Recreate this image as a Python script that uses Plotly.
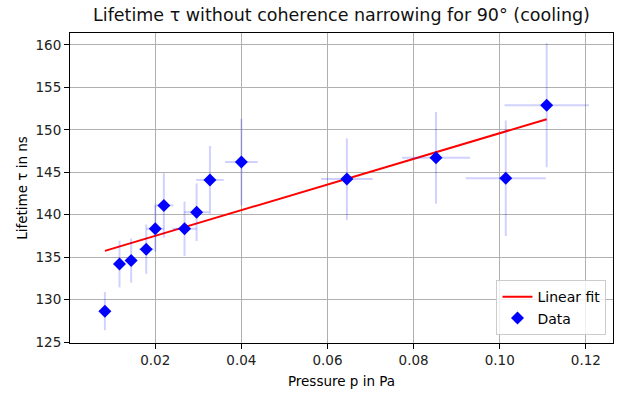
import plotly.graph_objects as go

pressure = [0.0083, 0.0117, 0.0144, 0.0179, 0.0200, 0.0220, 0.0268, 0.0296, 0.0327, 0.0400, 0.0645, 0.0852, 0.1014, 0.1109]
lifetime = [128.65, 134.2, 134.6, 135.95, 138.35, 141.1, 138.35, 140.3, 144.1, 146.2, 144.2, 146.7, 144.3, 152.9]
pressure_err = [0.0010, 0.0012, 0.0013, 0.0017, 0.0020, 0.0022, 0.0028, 0.0029, 0.0032, 0.0038, 0.0060, 0.0079, 0.0093, 0.0098]
lifetime_err = [2.25, 2.75, 2.6, 2.9, 2.7, 3.8, 3.2, 3.4, 4.0, 5.1, 4.8, 5.4, 6.8, 7.3]

fit_x = [0.0083, 0.1109]
fit_y = [135.75, 151.25]

x_ticks = [0.02, 0.04, 0.06, 0.08, 0.10, 0.12]
x_tick_text = ["0.02", "0.04", "0.06", "0.08", "0.10", "0.12"]
y_ticks = [125, 130, 135, 140, 145, 150, 155, 160]

font = "DejaVu Sans"

fig = go.Figure()
fig.add_trace(go.Scatter(
    x=fit_x, y=fit_y, mode="lines", name="Linear fit",
    line=dict(color="red", width=2),
))
fig.add_trace(go.Scatter(
    x=pressure, y=lifetime, mode="markers", name="Data",
    marker=dict(symbol="diamond", color="blue", size=10, line=dict(width=0)),
    error_x=dict(type="data", array=pressure_err, color="rgba(0,0,255,0.18)", thickness=2, width=0),
    error_y=dict(type="data", array=lifetime_err, color="rgba(0,0,255,0.18)", thickness=2, width=0),
))

axis_common = dict(
    showline=True, linecolor="black", linewidth=1, mirror=True,
    ticks="outside", ticklen=5, tickcolor="black", tickwidth=1,
    showgrid=True, gridcolor="#b0b0b0", gridwidth=1, zeroline=False,
    tickfont=dict(family=font, size=13.5, color="#222222"),
    automargin=False,
)

fig.update_layout(
    width=627, height=396,
    margin=dict(l=70, r=14, t=33, b=53),
    paper_bgcolor="white", plot_bgcolor="white",
    font=dict(family=font, color="black"),
    title=dict(text="Lifetime τ without coherence narrowing for 90° (cooling)",
               x=0.5, xref="paper", xanchor="center", y=0.963, yanchor="middle",
               font=dict(family=font, size=17.5, color="#111111")),
    xaxis=dict(range=[0.0002, 0.1263], tickvals=x_ticks, ticktext=x_tick_text,
               title=dict(text="Pressure p in Pa", font=dict(family=font, size=13.5), standoff=9),
               **axis_common),
    yaxis=dict(range=[124.9, 161.4], tickvals=y_ticks,
               title=dict(text="Lifetime τ in ns", font=dict(family=font, size=13.5), standoff=4),
               **axis_common),
    legend=dict(x=0.988, y=0.025, xanchor="right", yanchor="bottom",
                bgcolor="rgba(255,255,255,0.8)", bordercolor="#cccccc", borderwidth=1,
                itemwidth=30, tracegroupgap=0,
                font=dict(family=font, size=14, color="black")),
    showlegend=True,
)

fig.write_html("out.html")
